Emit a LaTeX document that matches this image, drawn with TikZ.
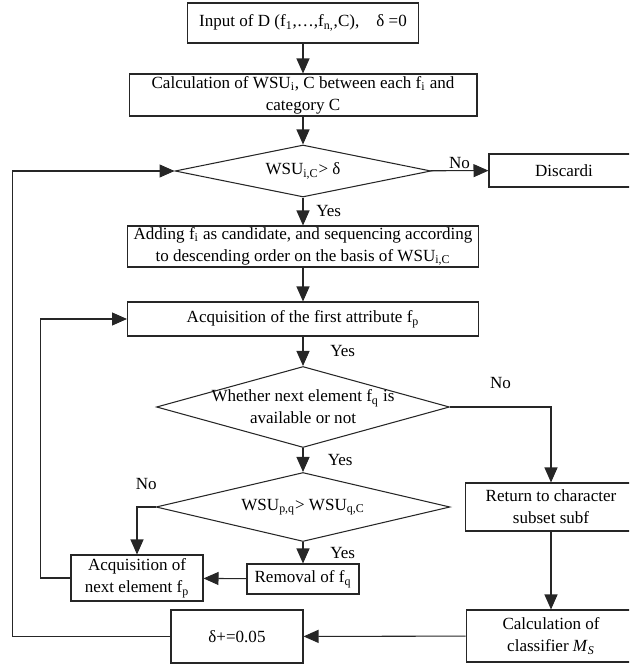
\documentclass[tikz,border=0pt]{standalone}
\usepackage{fontspec}
\setmainfont{Liberation Serif}
\usetikzlibrary{shapes.geometric,arrows.meta}

\tikzset{
  stepbox/.style={draw=black!85, rectangle, align=center, inner sep=0pt},
  decision/.style={draw=black!85, diamond, inner sep=0pt},
  dtext/.style={align=center, inner sep=0pt},
  flow/.style={draw=black!85, -{Triangle[length=0.3cm,width=0.26cm]}},
  lab/.style={inner sep=1pt},
}

\begin{document}
\begin{tikzpicture}[x=0.02cm,y=-0.02cm,line width=0.6pt,font=\fontsize{9.7}{12.5}\selectfont]
  \useasboundingbox (0,0) rectangle (629,668);
  \clip (0,0) rectangle (629,668);
  %% main column
  \node[stepbox, minimum width=4.62cm, minimum height=0.8cm] (in) at (303,23)
    {Input of D (f\textsubscript{1},…,f\textsubscript{n,},C),\quad δ =0};
  \node[stepbox, minimum width=6.96cm, minimum height=0.84cm] (calc) at (303,95)
    {Calculation of WSU\textsubscript{i}, C between each f\textsubscript{i} and\\category C};
  \node[decision, minimum width=5.12cm, minimum height=1.04cm] (dia1) at (303,171) {};
  \node[dtext] (dia1t) at (dia1) {WSU\textsubscript{i,C}> δ};
  \node[stepbox, minimum width=3cm, minimum height=0.66cm] (discard) at (564,170.5) {Discardi};
  \node[stepbox, minimum width=7.02cm, minimum height=0.82cm] (add) at (303,246.5)
    {Adding f\textsubscript{i} as candidate, and sequencing according\\to descending order on the basis of WSU\textsubscript{i,C}};
  \node[stepbox, minimum width=7.02cm, minimum height=0.68cm] (first) at (303,319)
    {Acquisition of the first attribute f\textsubscript{p}};
  \node[decision, minimum width=5.86cm, minimum height=1.62cm] (dia2) at (303,407) {};
  \node[dtext] (dia2t) at (dia2) {Whether next element f\textsubscript{q} is\\available or not};
  \node[decision, minimum width=5.88cm, minimum height=1.38cm] (dia3) at (303,507) {};
  \node[dtext] (dia3t) at (dia3) {WSU\textsubscript{p,q}> WSU\textsubscript{q,C}};
  \node[stepbox, minimum width=2.24cm, minimum height=0.6cm] (rem) at (303,579) {Removal of f\textsubscript{q}};
  \node[stepbox, minimum width=2.64cm, minimum height=0.92cm] (next) at (137,578)
    {Acquisition of\\next element f\textsubscript{p}};
  %% right column
  \node[stepbox, minimum width=3.44cm, minimum height=0.96cm] (ret) at (551,507)
    {Return to character\\subset subf};
  \node[stepbox, minimum width=3.4cm, minimum height=1.04cm] (calcm) at (551,636)
    {Calculation of\\classifier \textit{M}\textsubscript{\textit{S}}};
  \node[stepbox, minimum width=2.64cm, minimum height=1.06cm] (inc) at (237,636.5) {δ+=0.05};
  %% connectors
  \draw[flow] (in) -- (calc);
  \draw[flow] (calc) -- (dia1);
  \draw[flow] (dia1) -- node[lab, above] {No} (discard);
  \draw[flow] (dia1) -- node[lab, right=0.22cm] {Yes} (add);
  \draw[flow] (add) -- (first);
  \draw[flow] (first) -- node[lab, right=0.5cm] {Yes} (dia2);
  \draw[flow] (dia2.east) -| node[lab, pos=0.25, above=0.32cm] {No} (ret);
  \draw[flow] (dia2) -- node[lab, right=0.45cm] {Yes} (dia3);
  \draw[flow] (dia3.west) -| node[lab, pos=0.25, above=0.3cm] {No} (next);
  \draw[flow] (dia3) -- node[lab, right=0.5cm] {Yes} (rem);
  \draw[flow] (rem) -- (next);
  \draw[flow] (next.west) -- ++(-30,0) |- (first.west);
  \draw[flow] (ret) -- (calcm);
  \draw[flow] (calcm) -- (inc);
  \draw[flow] (inc.west) -- ++(-158,0) |- (dia1.west);
\end{tikzpicture}
\end{document}
